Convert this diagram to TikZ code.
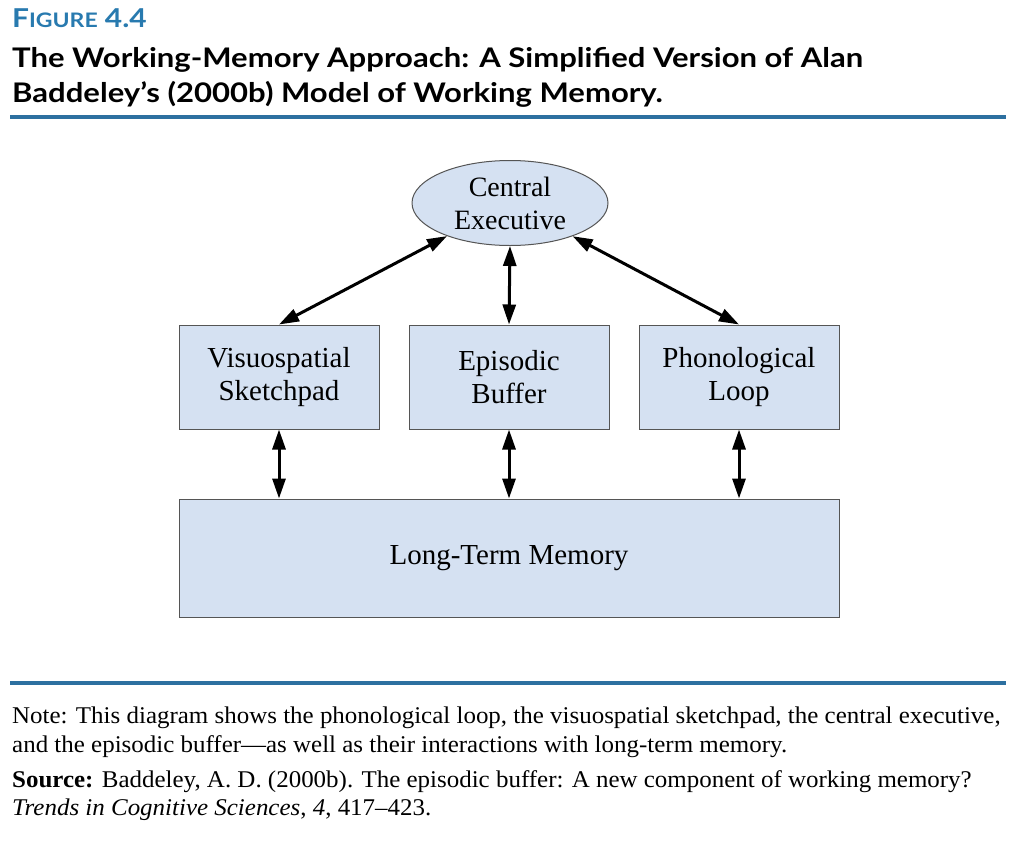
\documentclass[tikz,border=0pt]{standalone}
\usepackage{fontspec}
\setmainfont{Liberation Serif}
\newfontfamily\titlefont{Lato}[FakeStretch=1.15]
\newfontfamily\notefont{Liberation Serif}[FakeStretch=1.04]
\usetikzlibrary{arrows.meta,shapes.geometric}
\definecolor{rulblue}{RGB}{45,112,160}
\definecolor{figblue}{RGB}{40,122,175}
\definecolor{boxfill}{RGB}{213,225,242}
\definecolor{boxline}{RGB}{85,85,85}
\begin{document}
\begin{tikzpicture}[x=1pt,y=-1pt,
  comp/.style={draw=boxline,line width=1pt,fill=boxfill,rectangle,minimum width=200pt,minimum height=104pt,inner sep=0pt,align=center,font=\fontsize{29}{33}\selectfont},
  ovalbox/.style={draw=boxline,line width=1pt,fill=boxfill,ellipse,minimum width=196pt,minimum height=85pt,inner sep=0pt,align=center,font=\fontsize{28}{33}\selectfont},
  link/.style={line width=3pt,{Triangle[length=20pt,width=13pt]}-{Triangle[length=20pt,width=13pt]}},
  txt/.style={anchor=base west,inner sep=0pt},
  hrule/.style={draw=rulblue,line width=4pt}]
\useasboundingbox (0,0) rectangle (1024,849);
\fill[white] (0,0) rectangle (1024,849);
% header
\node[txt,text=figblue,font=\titlefont\bfseries] (fig) at (12,27) {{\fontsize{26}{26}\selectfont F}{\fontsize{20}{20}\selectfont IGURE}{\fontsize{26}{26}\selectfont\ 4.4}};
\node[txt,font=\titlefont\bfseries\fontsize{27}{27}\selectfont] (t1) at (12,67) {The Working-Memory Approach: A Simplified Version of Alan};
\node[txt,font=\titlefont\bfseries\fontsize{27}{27}\selectfont] (t2) at (12,102) {Baddeley’s (2000b) Model of Working Memory.};
\coordinate (r1a) at (10,117); \coordinate (r1b) at (1006,117);
\draw[hrule] (r1a) -- (r1b);
% diagram
\node[ovalbox] (ce) at (510,203) {Central\\Executive};
\node[comp] (vs) at (279,377) {Visuospatial\\Sketchpad};
\node[comp] (eb) at (509,377) {Episodic\\Buffer};
\node[comp] (pl) at (739,377) {Phonological\\Loop};
\node[comp,minimum width=660pt,minimum height=118pt] (ltm) at (509,558) {Long-Term Memory};
\draw[link] (ce) -- (vs.north);
\draw[link] (ce.south) -- (eb.north);
\draw[link] (ce) -- (pl.north);
\draw[link] (vs.south) -- (vs.south |- ltm.north);
\draw[link] (eb.south) -- (eb.south |- ltm.north);
\draw[link] (pl.south) -- (pl.south |- ltm.north);
% footer
\coordinate (r2a) at (10,683); \coordinate (r2b) at (1006,683);
\draw[hrule] (r2a) -- (r2b);
\node[txt,font=\notefont\fontsize{24}{24}\selectfont] (n1) at (12,723) {Note: This diagram shows the phonological loop, the visuospatial sketchpad, the central executive,};
\node[txt,font=\notefont\fontsize{24}{24}\selectfont] (n2) at (12,752) {and the episodic buffer—as well as their interactions with long-term memory.};
\node[txt,font=\notefont\fontsize{24}{24}\selectfont] (s1) at (12,787) {\textbf{Source:} Baddeley, A. D. (2000b). The episodic buffer: A new component of working memory?};
\node[txt,font=\notefont\fontsize{24}{24}\selectfont] (s2) at (12,815) {\textit{Trends in Cognitive Sciences}, \textit{4}, 417–423.};
\end{tikzpicture}
\end{document}
